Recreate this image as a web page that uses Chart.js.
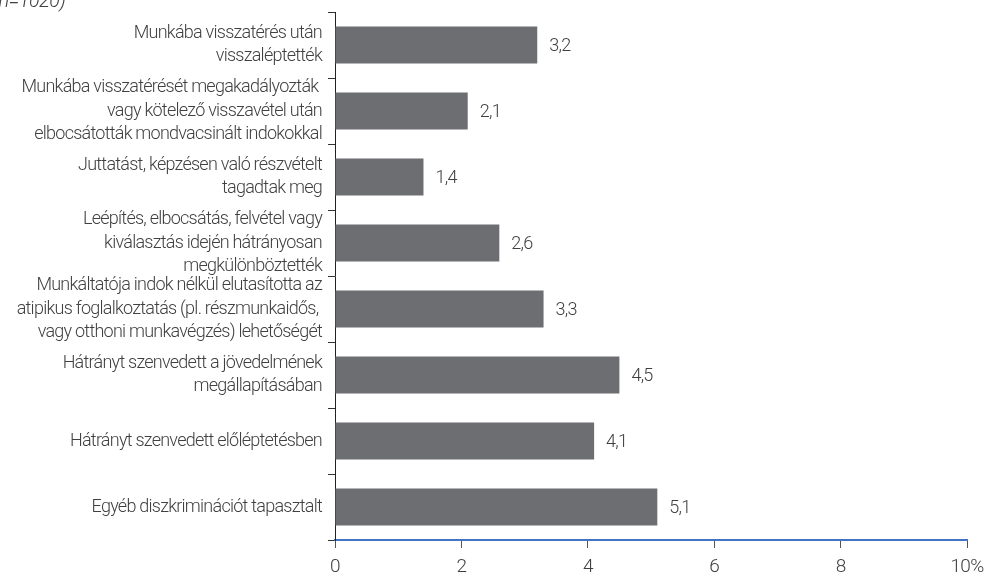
<!DOCTYPE html>
<html>
<head>
<meta charset="utf-8">
<script src="https://cdn.jsdelivr.net/npm/chart.js@4/dist/chart.umd.min.js"></script>
<style>
  html, body { margin: 0; padding: 0; background: #fff; overflow: hidden; }
  #wrap { position: relative; width: 992px; height: 577px; }
  #note { position: absolute; left: -7px; top: -12px; font-family: Roboto, sans-serif; font-weight: 300; font-style: italic; font-size: 20px; letter-spacing: -0.6px; color: #404040; white-space: nowrap; }
  canvas { position: absolute; left: 0; top: 0; }
</style>
</head>
<body>
<div id="wrap">
  <canvas id="c" width="992" height="577"></canvas>
  <div id="note">(n=1020)</div>
</div>
<script>
const categories = [
  ["Munkába visszatérés után", "visszaléptették"],
  ["Munkába visszatérését megakadályozták ", "vagy kötelező visszavétel után", "elbocsátották mondvacsinált indokokkal"],
  ["Juttatást, képzésen való részvételt", "tagadtak meg"],
  ["Leépítés, elbocsátás, felvétel vagy", "kiválasztás idején hátrányosan", "megkülönböztették"],
  ["Munkáltatója indok nélkül elutasította az", "atipikus foglalkoztatás (pl. részmunkaidős, ", "vagy otthoni munkavégzés) lehetőségét"],
  ["Hátrányt szenvedett a jövedelmének", "megállapításában"],
  ["Hátrányt szenvedett előléptetésben"],
  ["Egyéb diszkriminációt tapasztalt"]
];
const values = [3.2, 2.1, 1.4, 2.6, 3.3, 4.5, 4.1, 5.1];
const xTickValues = [0, 2, 4, 6, 8, 10];
const xTickLabels = ["0", "2", "4", "6", "8", "10%"];

const FONT = "Roboto, sans-serif";
const TEXT = "#404040";
const SPACING = "-0.75px";

const condense = {
  id: "condense",
  beforeLayout(chart) { chart.ctx.letterSpacing = SPACING; },
  beforeDraw(chart) { chart.ctx.letterSpacing = SPACING; }
};

const valueLabels = {
  id: "valueLabels",
  afterDatasetsDraw(chart) {
    const ctx = chart.ctx;
    const meta = chart.getDatasetMeta(0);
    ctx.save();
    ctx.letterSpacing = SPACING;
    ctx.font = "300 18px " + FONT;
    ctx.fillStyle = TEXT;
    ctx.textAlign = "left";
    ctx.textBaseline = "middle";
    meta.data.forEach((bar, i) => {
      const txt = String(values[i]).replace(".", ",");
      ctx.fillText(txt, bar.x + 12, bar.y + 1);
    });
    ctx.restore();
  }
};

new Chart(document.getElementById("c"), {
  type: "bar",
  data: {
    labels: categories,
    datasets: [{
      data: values,
      backgroundColor: "#6d6e71",
      borderWidth: 0,
      barPercentage: 0.56,
      categoryPercentage: 1.0
    }]
  },
  options: {
    indexAxis: "y",
    responsive: false,
    animation: false,
    devicePixelRatio: 1,
    layout: { padding: { left: 0, right: 25, top: 12, bottom: 0 } },
    plugins: { legend: { display: false }, tooltip: { enabled: false } },
    scales: {
      x: {
        min: 0, max: 10,
        afterBuildTicks(scale) { scale.ticks = xTickValues.map(v => ({ value: v })); },
        afterFit(scale) { scale.height = 37; scale.paddingLeft = 0; scale.paddingRight = 0; },
        ticks: {
          callback: (v, i) => xTickLabels[i],
          font: { family: FONT, size: 19, weight: 300 },
          color: TEXT,
          padding: 8,
          maxRotation: 0,
          autoSkip: false
        },
        grid: { drawOnChartArea: false, drawTicks: true, tickLength: 8, color: "#555", lineWidth: 1 },
        border: { display: true, color: "#4472c4", width: 2 }
      },
      y: {
        afterFit(scale) { scale.width = 335; scale.paddingTop = 0; scale.paddingBottom = 0; },
        ticks: {
          font: { family: FONT, size: 18, weight: 300, lineHeight: 1.28 },
          color: TEXT,
          padding: 6,
          autoSkip: false
        },
        grid: { offset: true, drawOnChartArea: false, drawTicks: true, tickLength: 7, color: "#333", lineWidth: 1 },
        border: { display: true, color: "#222", width: 1 }
      }
    }
  },
  plugins: [condense, valueLabels]
});
</script>
</body>
</html>
